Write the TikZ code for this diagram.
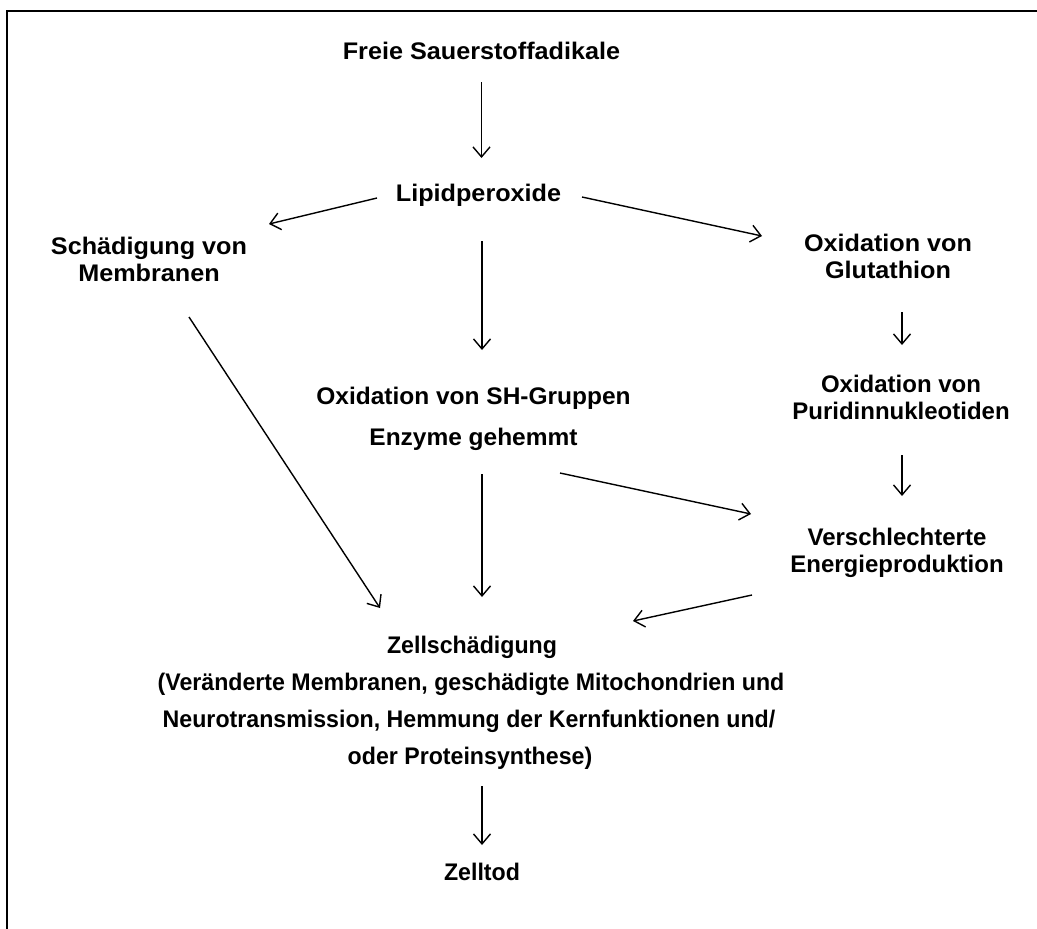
\documentclass[tikz,border=0pt]{standalone}
\usepackage{fontspec}
\setmainfont{Liberation Sans}
\newfontfamily\wideF[FakeStretch=1.05]{Liberation Sans}
\newfontfamily\midF[FakeStretch=1.0]{Liberation Sans}
\newfontfamily\shF[FakeStretch=1.02]{Liberation Sans}
\newfontfamily\narF[FakeStretch=0.965]{Liberation Sans}
\usetikzlibrary{arrows.meta}
\tikzset{
  txt/.style={font=\fontsize{24}{27}\selectfont\bfseries, inner sep=0pt, anchor=base},
  wide/.style={txt, font=\fontsize{24}{27}\selectfont\wideF\bfseries},
  mid/.style={txt, font=\fontsize{24}{27}\selectfont\midF\bfseries},
  shtxt/.style={txt, font=\fontsize{24}{27}\selectfont\shF\bfseries},
  nar/.style={txt, font=\fontsize{24}{27}\selectfont\narF\bfseries},
  conn/.style={line width=1.4pt, -{Straight Barb[length=10pt,width=17pt,line width=1.4pt]}},
  frame/.style={line width=2pt}
}
\begin{document}
\begin{tikzpicture}[x=1pt,y=-1pt]
\useasboundingbox (0,0) rectangle (1037,929);
\fill[white] (0,0) rectangle (1037,929);
\draw[frame] (7,929) -- (7,11) -- (1037,11);

% nodes (one per printed line, placed on its baseline)
\node[wide] (freie) at (481.5,59) {Freie Sauerstoffadikale};
\node[wide] (lipid) at (478.5,201) {Lipidperoxide};
\node[wide] (schaedA) at (149,254) {Schädigung von};
\node[wide] (schaedB) at (149,281) {Membranen};
\node[wide] (glutA) at (888,251) {Oxidation von};
\node[wide] (glutB) at (888,278) {Glutathion};
\node[shtxt] (shA) at (473.5,404) {Oxidation von SH-Gruppen};
\node[shtxt] (shB) at (473.5,445) {Enzyme gehemmt};
\node[mid] (puridA) at (901,392) {Oxidation von};
\node[mid] (puridB) at (901,419) {Puridinnukleotiden};
\node[mid] (verschA) at (897,545) {Verschlechterte};
\node[mid] (verschB) at (897,572) {Energieproduktion};
\node[nar] (zell) at (472,653) {Zellschädigung};
\node[nar] (paraA) at (471,690) {(Veränderte Membranen, geschädigte Mitochondrien und};
\node[nar] (paraB) at (469,727) {Neurotransmission, Hemmung der Kernfunktionen und/};
\node[nar] (paraC) at (470,764) {oder Proteinsynthese)};
\node[nar] (tod) at (482,880) {Zelltod};

% connector end points
\coordinate (a1s) at (481.5,82);  \coordinate (a1e) at (481.5,158);
\coordinate (a2s) at (377,198);   \coordinate (a2e) at (269,224);
\coordinate (a3s) at (582,197);   \coordinate (a3e) at (762,236);
\coordinate (a4s) at (482,241);   \coordinate (a4e) at (482,350);
\coordinate (a5s) at (902,312);   \coordinate (a5e) at (902,345);
\coordinate (a6s) at (902,455);   \coordinate (a6e) at (902,496);
\coordinate (a7s) at (560,473);   \coordinate (a7e) at (751,514);
\coordinate (a8s) at (482,474);   \coordinate (a8e) at (482,597);
\coordinate (a9s) at (189,317);   \coordinate (a9e) at (380,608);
\coordinate (a10s) at (752,595);  \coordinate (a10e) at (633,621);
\coordinate (a11s) at (482,786);  \coordinate (a11e) at (482,845);

\draw[conn] (a1s) -- (a1e);
\draw[conn] (a2s) -- (a2e);
\draw[conn] (a3s) -- (a3e);
\draw[conn] (a4s) -- (a4e);
\draw[conn] (a5s) -- (a5e);
\draw[conn] (a6s) -- (a6e);
\draw[conn] (a7s) -- (a7e);
\draw[conn] (a8s) -- (a8e);
\draw[conn] (a9s) -- (a9e);
\draw[conn] (a10s) -- (a10e);
\draw[conn] (a11s) -- (a11e);
\end{tikzpicture}
\end{document}
